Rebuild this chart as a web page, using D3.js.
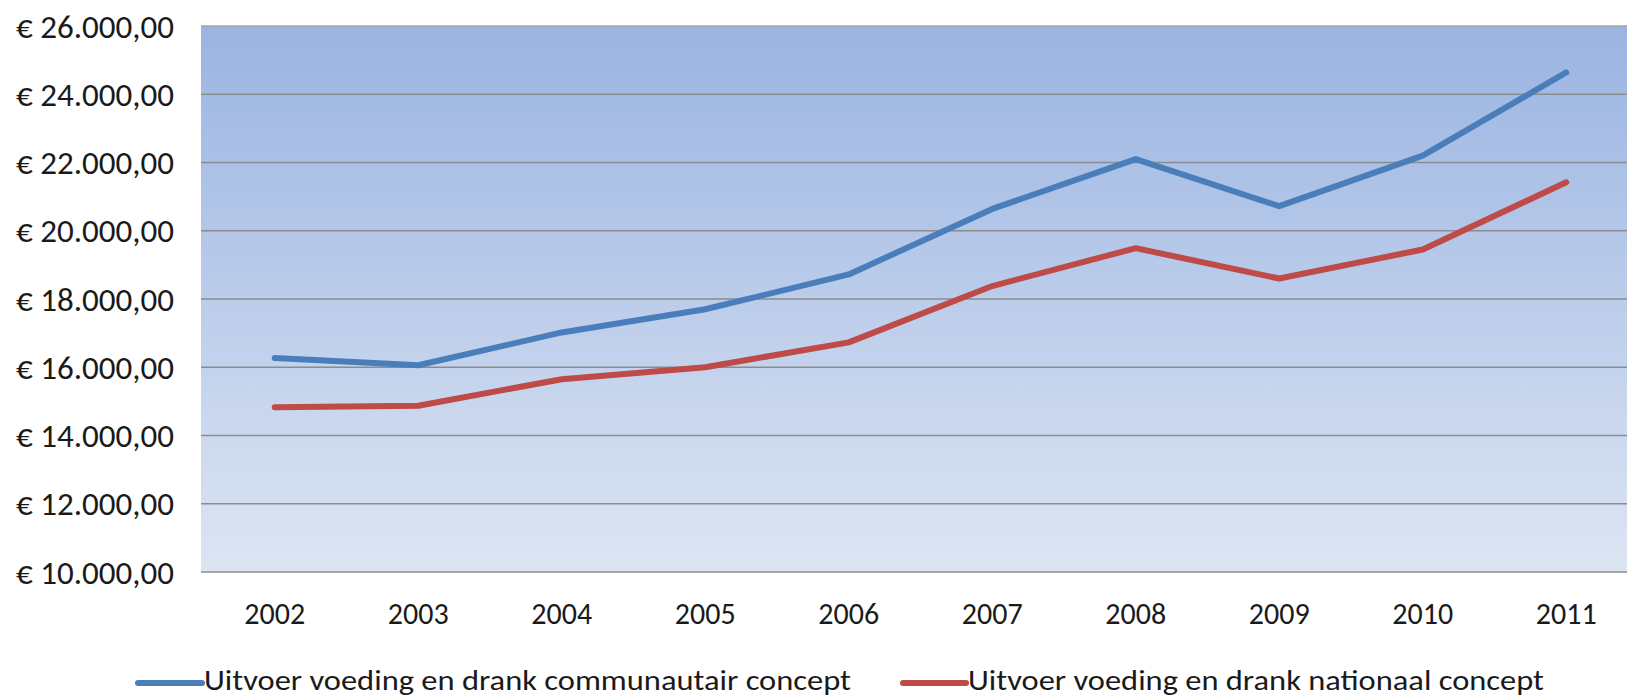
<!DOCTYPE html>
<html>
<head>
<meta charset="utf-8">
<script src="https://cdn.jsdelivr.net/npm/d3@7"></script>
<style>
    html, body { margin: 0; padding: 0; background: #ffffff; overflow: hidden; }
    text { font-family: Carlito, Lato, "Open Sans", sans-serif; fill: #1a1a1a; }
</style>
</head>
<body>
<svg id="chart"></svg>
<script>
var width = 1627, height = 697

// data
var years = ["2002", "2003", "2004", "2005", "2006", "2007", "2008", "2009", "2010", "2011"]
var communautair = [16270, 16060, 17020, 17700, 18720, 20640, 22100, 20720, 22200, 24640]
var nationaal = [14830, 14870, 15650, 16000, 16730, 18380, 19490, 18600, 19450, 21420]
var seriesNames = ["Uitvoer voeding en drank communautair concept", "Uitvoer voeding en drank nationaal concept"]
var seriesColours = ["#4a7ebb", "#be4b48"]
var yTicks = [10000, 12000, 14000, 16000, 18000, 20000, 22000, 24000, 26000]

var svg = d3.select("#chart")
    .attr("width", width)
    .attr("height", height)

var plotLeft = 201, plotRight = width, plotTop = 26, plotBottom = 572

var x = d3.scalePoint()
    .domain(years)
    .range([203, 1638])
    .padding(0.5)

var y = d3.scaleLinear()
    .domain([10000, 26000])
    .range([plotBottom, plotTop])

var euro = function(v) {
    var s = d3.format(",.2f")(v)
    // swap to Dutch separators
    s = s.replace(/,/g, "#").replace(".", ",").replace(/#/g, ".")
    return "\u20ac " + s
}

var defs = svg.append("defs")
var grad = defs.append("linearGradient")
    .attr("id", "bg")
    .attr("x1", 0).attr("y1", 0)
    .attr("x2", 0).attr("y2", 1)
grad.append("stop").attr("offset", "0%").attr("stop-color", "#9ab4e2")
grad.append("stop").attr("offset", "100%").attr("stop-color", "#dde5f3")

svg.append("rect")
    .attr("x", plotLeft)
    .attr("y", plotTop)
    .attr("width", plotRight - plotLeft)
    .attr("height", plotBottom - plotTop)
    .attr("fill", "url(#bg)")

// gridlines
svg.append("g")
    .selectAll("line")
    .data(yTicks)
    .enter()
    .append("line")
    .attr("x1", plotLeft)
    .attr("x2", plotRight)
    .attr("y1", d => y(d))
    .attr("y2", d => y(d))
    .attr("stroke", d => d == 26000 ? "#a6a6a6" : "#8c8c8c")
    .attr("stroke-width", 1.6)

// y labels
svg.append("g")
    .selectAll("text")
    .data(yTicks)
    .enter()
    .append("text")
    .attr("x", 174)
    .attr("y", d => y(d) + 1)
    .attr("text-anchor", "end")
    .attr("dominant-baseline", "central")
    .attr("textLength", 158)
    .attr("lengthAdjust", "spacingAndGlyphs")
    .style("font-size", "32px")
    .text(d => euro(d))

// x labels
svg.append("g")
    .selectAll("text")
    .data(years)
    .enter()
    .append("text")
    .attr("x", d => x(d))
    .attr("y", 624)
    .attr("text-anchor", "middle")
    .style("font-size", "30px")
    .text(d => d)

var line = d3.line()
    .x((d, i) => x(years[i]))
    .y(d => y(d))

var all = [communautair, nationaal]

svg.append("g")
    .selectAll("path")
    .data(all)
    .enter()
    .append("path")
    .attr("d", d => line(d))
    .attr("fill", "none")
    .attr("stroke", (d, i) => seriesColours[i])
    .attr("stroke-width", 6)
    .attr("stroke-linejoin", "round")
    .attr("stroke-linecap", "round")

// legend
var legendX = [[138, 202, 204, 647], [903, 966, 968, 576]]
var legend = svg.append("g")
    .selectAll("g")
    .data(seriesNames)
    .enter()
    .append("g")

legend.append("line")
    .attr("x1", (d, i) => legendX[i][0])
    .attr("x2", (d, i) => legendX[i][1])
    .attr("y1", 683)
    .attr("y2", 683)
    .attr("stroke", (d, i) => seriesColours[i])
    .attr("stroke-width", 6)
    .attr("stroke-linecap", "round")

legend.append("text")
    .attr("x", (d, i) => legendX[i][2])
    .attr("y", 690)
    .attr("textLength", (d, i) => legendX[i][3])
    .attr("lengthAdjust", "spacingAndGlyphs")
    .style("font-size", "29px")
    .text(d => d)
</script>
</body>
</html>
